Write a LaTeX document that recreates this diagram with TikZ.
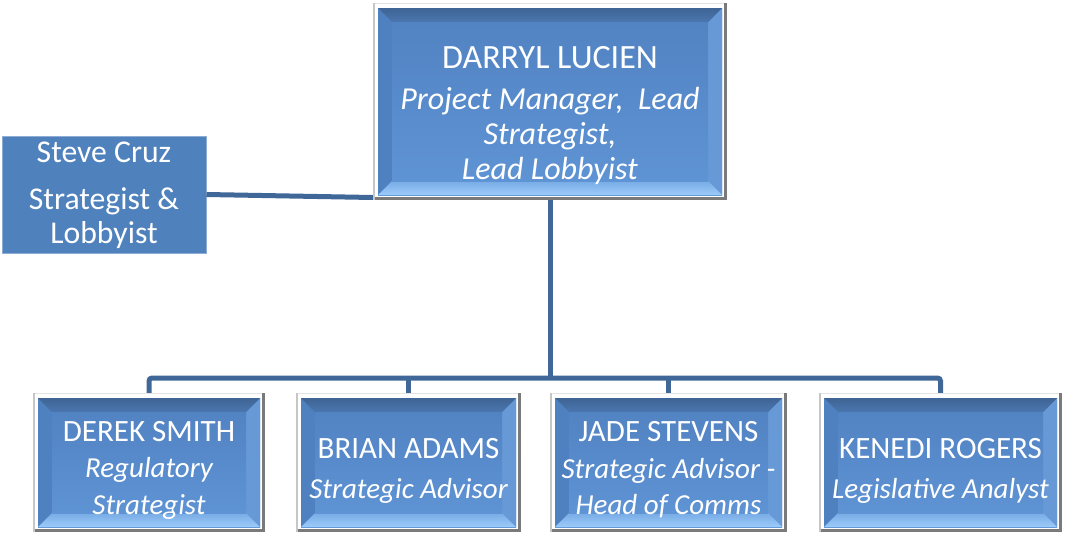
\documentclass[tikz,border=0pt]{standalone}
\usepackage{fontspec}
\setmainfont{Carlito}
\definecolor{linecol}{HTML}{3F6797}
\definecolor{flatblue}{HTML}{4F81BD}
\definecolor{flatedge}{HTML}{8EACD4}
\definecolor{bevtop}{HTML}{4A76AF}
\definecolor{bevleft}{HTML}{4F80BF}
\definecolor{bevright}{HTML}{6699D6}
\definecolor{bevbotA}{HTML}{78ABE6}
\definecolor{bevbotB}{HTML}{9CCBFA}
\definecolor{midA}{HTML}{5283C3}
\definecolor{midB}{HTML}{5E93D4}
\definecolor{frame}{HTML}{E4E4E4}
\definecolor{frameedge}{HTML}{7A7A7A}
\newcommand{\rolefont}{\fontsize{29}{36}\selectfont\itshape}
\tikzset{
  bevelbox/.style={draw=none, inner sep=0pt, fill=frame,
    path picture={
      \path (path picture bounding box.north west) coordinate (o1)
            (path picture bounding box.south east) coordinate (o2);
      \fill[white] ([shift={(2pt,-1pt)}]o1) rectangle ([shift={(-3pt,3pt)}]o2);
      \fill[frameedge] ([xshift=-3pt]o2 |- o1) rectangle (o2);
      \fill[frameedge] ([yshift=3pt]o1 |- o2) rectangle (o2);
      \fill[gray!45] (o1) rectangle ([xshift=2pt]o1 |- o2);
      \path ([shift={(5pt,-5pt)}]o1) coordinate (i1)
            ([shift={(-5pt,5pt)}]o2) coordinate (i2)
            ([shift={(19pt,-19pt)}]o1) coordinate (j1)
            ([shift={(-19pt,19pt)}]o2) coordinate (j2);
      \shade[top color=midA, bottom color=midB] (i1) rectangle (i2);
      \fill[bevleft] (i1) -- (j1) -- (j1 |- j2) -- (i1 |- i2) -- cycle;
      \fill[bevright] (i2 |- i1) -- (j2 |- j1) -- (j2) -- (i2) -- cycle;
      \shade[top color=bevtop!85!black, bottom color=bevtop] (i1) -- (i2 |- i1) -- (j2 |- j1) -- (j1) -- cycle;
      \shade[top color=bevbotA, bottom color=bevbotB] (i1 |- i2) -- (i2) -- (j2) -- (j1 |- j2) -- cycle;
      \shade[top color=midA, bottom color=midB] (j1) rectangle (j2);
    }},
  flatbox/.style={draw=flatedge, line width=1pt, fill=flatblue, inner sep=0pt},
  label text/.style={text=white, align=center, font=\fontsize{31}{36}\selectfont, inner sep=0pt},
  conn/.style={draw=linecol, line width=5pt},
}
\begin{document}
\begin{tikzpicture}[x=1pt, y=-1pt]
\useasboundingbox (0,0) rectangle (1068,533);
% boxes
\node[bevelbox, minimum width=354pt, minimum height=197pt] (top) at (550,101.5) {};
\node[flatbox, minimum width=204pt, minimum height=117pt] (steve) at (104,194.5) {};
\node[bevelbox, minimum width=232pt, minimum height=139pt] (derek) at (149,462.5) {};
\node[bevelbox, minimum width=225pt, minimum height=139pt] (brian) at (408.5,462.5) {};
\node[bevelbox, minimum width=237pt, minimum height=139pt] (jade) at (668.5,462.5) {};
\node[bevelbox, minimum width=243pt, minimum height=139pt] (kenedi) at (940.5,462.5) {};
% texts
\node[label text, font=\fontsize{32}{35}\selectfont] (toptext) at (550,115.5)
  {{\fontsize{34}{35}\selectfont DARRYL LUCIEN}\\[6pt] \textit{Project Manager,\ \ Lead}\\ \textit{Strategist,}\\ \textit{Lead Lobbyist}};
\node[label text, font=\fontsize{31.7}{34}\selectfont] (stevetext) at (104,195.5)
  {Steve Cruz\\[13pt] Strategist \&\\ Lobbyist};
\node[label text, font=\fontsize{31}{36.5}\selectfont] (derektext) at (149,470)
  {DEREK SMITH\\ {\rolefont Regulatory}\\ {\rolefont Strategist}};
\node[label text, font=\fontsize{31}{40}\selectfont] (briantext) at (408.5,470.5)
  {BRIAN ADAMS\\ {\rolefont Strategic Advisor}};
\node[label text, font=\fontsize{31}{36.5}\selectfont] (jadetext) at (668.5,470)
  {JADE STEVENS\\ {\rolefont Strategic Advisor -}\\ {\rolefont Head of Comms}};
\node[label text, font=\fontsize{31}{40}\selectfont] (kenedtext) at (940.5,471)
  {KENEDI ROGERS\\ {\rolefont Legislative Analyst}};
% connectors
\coordinate (bus) at (550,378);
\draw[conn] (steve.east) -- ([yshift=-96pt]top.west);
\draw[conn] (top.south) -- (bus);
\draw[conn, rounded corners=3pt] (derek.north) -- (derek.north |- bus) -- (kenedi.north |- bus) -- (kenedi.north);
\draw[conn] (brian.north) -- (brian.north |- bus);
\draw[conn] (jade.north) -- (jade.north |- bus);
\end{tikzpicture}
\end{document}
